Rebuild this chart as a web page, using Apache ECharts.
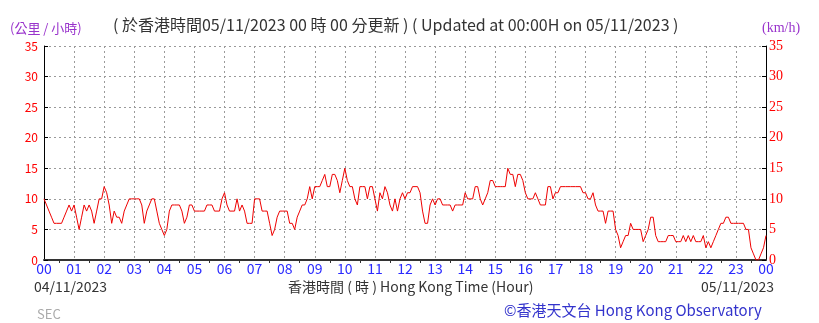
<!DOCTYPE html>
<html>
<head>
<meta charset="utf-8">
<script src="https://cdn.jsdelivr.net/npm/echarts@6/dist/echarts.min.js"></script>
<style>
html,body{margin:0;padding:0;background:#fff;}
#chart{width:819px;height:323px;}
</style>
</head>
<body>
<div id="chart"></div>
<script>
// Wind speed (km/h), one reading every 5 minutes from 00:00 04/11/2023 to 00:00 05/11/2023
const stepMinutes = 5;
const windSpeed = [
  10,9,8,7,6,6,6,6,7,8,9,8,
  9,7,5,7,9,8,9,8,6,8,10,10,
  12,11,9,6,8,7,7,6,8,9,10,10,
  10,10,10,9,6,8,9,10,10,8,6,5,
  4,5,8,9,9,9,9,8,6,7,9,9,
  8,8,8,8,8,9,9,9,8,8,8,10,
  11,9,8,8,8,10,8,9,8,6,6,6,
  10,10,10,8,8,8,6,4,5,7,8,8,
  8,8,6,6,5,7,8,9,9,10,12,10,
  12,12,12,13,14,12,12,14,14,13,11,13,
  15,13,12,12,10,9,12,12,12,10,12,12,
  10,8,11,10,12,11,9,8,10,8,10,11,
  10,11,11,12,12,12,11,8,6,6,9,10,
  9,10,10,9,9,9,9,8,9,9,9,9,
  11,10,10,10,12,12,10,9,10,11,13,13,
  12,12,12,12,12,15,14,14,12,14,14,13,
  11,10,10,10,11,10,9,9,9,12,12,10,
  11,11,12,12,12,12,12,12,12,12,12,11,
  11,10,10,11,9,8,8,8,6,8,8,8,
  5,4,2,3,4,4,6,5,5,5,5,3,
  4,5,7,7,4,3,3,3,3,4,4,4,
  3,3,3,4,3,4,3,4,3,3,3,4,
  2,3,2,3,4,5,6,6,7,7,6,6,
  6,6,6,6,5,5,2,1,0,0,1,2,
  4
];
const hourLabels = ['00','01','02','03','04','05','06','07','08','09','10','11','12',
  '13','14','15','16','17','18','19','20','21','22','23','00'];
const yTicks = [0,5,10,15,20,25,30,35];

const seriesData = windSpeed.map((v, i) => [i * stepMinutes / 60, v]);

const chart = echarts.init(document.getElementById('chart'), null, {renderer: 'canvas'});
const cjk = '"Noto Sans CJK TC", "Noto Sans", sans-serif';
const dotted = {show: true, lineStyle: {color: '#9a9a9a', type: [2, 3], width: 1}};

const yAxisCommon = {
  type: 'value', min: 0, max: 35, interval: 5,
  axisLine: {show: true, lineStyle: {color: '#000', width: 1}},
  axisTick: {show: true, inside: true, length: 4, lineStyle: {color: '#000'}},
  splitLine: dotted
};

chart.setOption({
  animation: false,
  backgroundColor: '#fff',
  grid: {left: 44, right: 53, top: 46, bottom: 63},
  title: [
    {text: '( 於香港時間05/11/2023 00 時 00 分更新 ) ( Updated at 00:00H on 05/11/2023 )',
     left: 108, top: 12, textStyle: {fontFamily: cjk, fontSize: 16, fontWeight: 'normal', color: '#333'}},
    {text: '(公里 / 小時)', left: 5, top: 17,
     textStyle: {fontFamily: cjk, fontSize: 13, fontWeight: 'normal', color: '#9933cc'}},
    {text: '(km/h)', left: 757, top: 16,
     textStyle: {fontFamily: '"Liberation Serif", serif', fontSize: 14, fontWeight: 'normal', color: '#9933cc'}},
    {text: '04/11/2023', left: 29, top: 275,
     textStyle: {fontFamily: cjk, fontSize: 14, fontWeight: 'normal', color: '#333'}},
    {text: '香港時間 ( 時 ) Hong Kong Time (Hour)', left: 283, top: 275,
     textStyle: {fontFamily: cjk, fontSize: 14, fontWeight: 'normal', color: '#333'}},
    {text: '05/11/2023', left: 696, top: 275,
     textStyle: {fontFamily: cjk, fontSize: 14, fontWeight: 'normal', color: '#333'}},
    {text: '©香港天文台 Hong Kong Observatory', left: 499, top: 298,
     textStyle: {fontFamily: cjk, fontSize: 15, fontWeight: 'normal', color: '#3333cc'}},
    {text: 'SEC', left: 32, top: 303,
     textStyle: {fontFamily: cjk, fontSize: 13, fontWeight: 'normal', color: '#aaa'}}
  ],
  xAxis: {
    type: 'value', min: 0, max: 24, interval: 1,
    axisLine: {show: true, onZero: false, lineStyle: {color: '#333', width: 2}},
    axisTick: {show: false},
    minorTick: {show: true, splitNumber: 2, length: 3, lineStyle: {color: '#333'}},
    splitLine: dotted,
    axisLabel: {
      color: '#2a2aff', fontFamily: cjk, fontSize: 14, margin: 2,
      formatter: v => hourLabels[Math.round(v)]
    }
  },
  yAxis: [
    Object.assign({}, yAxisCommon, {
      position: 'left',
      axisLabel: {color: '#ff0000', fontFamily: cjk, fontSize: 12, margin: 6,
        formatter: v => yTicks.includes(v) ? String(v) : ''}
    }),
    Object.assign({}, yAxisCommon, {
      position: 'right',
      splitLine: {show: false},
      axisLabel: {color: '#ff0000', fontFamily: '"Liberation Serif", serif', fontSize: 14, margin: 3,
        formatter: v => yTicks.includes(v) ? String(v) : ''}
    })
  ],
  series: [{
    type: 'line', data: seriesData, showSymbol: false, symbol: 'none',
    lineStyle: {color: '#ee0000', width: 1}, yAxisIndex: 0
  }]
});
</script>
</body>
</html>
